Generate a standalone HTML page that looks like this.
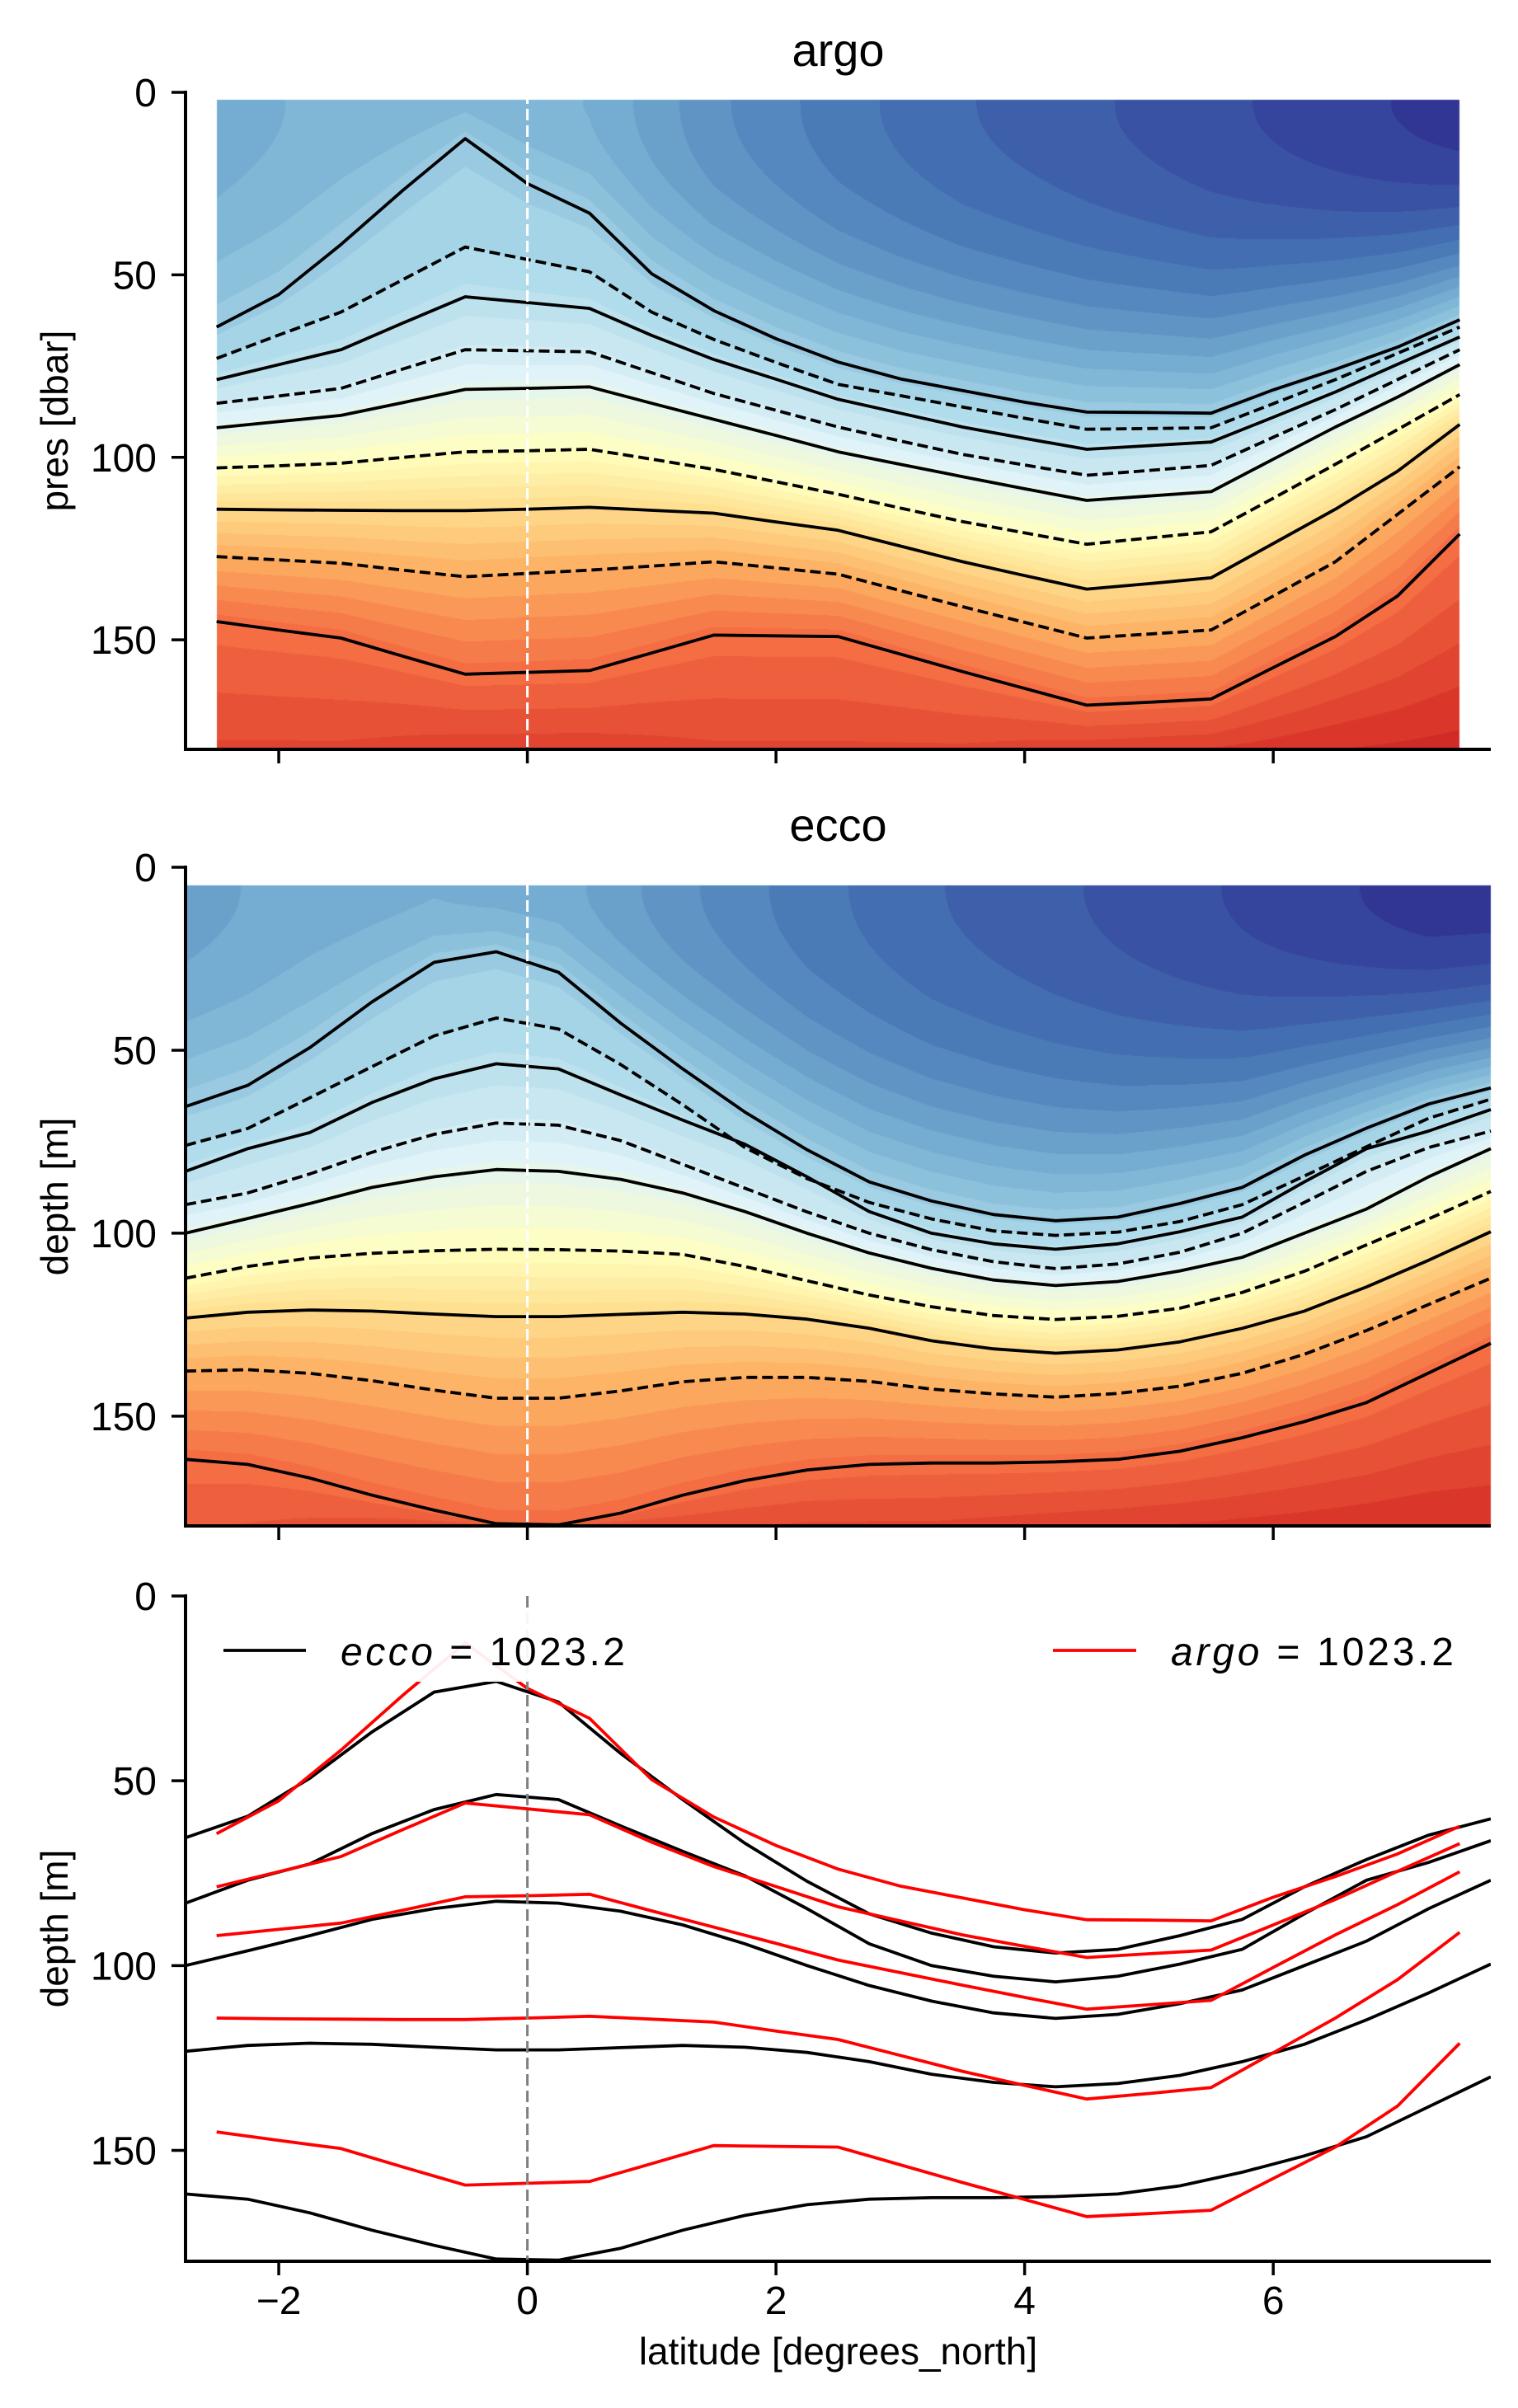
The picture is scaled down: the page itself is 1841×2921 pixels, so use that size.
<!DOCTYPE html>
<html><head><meta charset="utf-8">
<style>
html,body{margin:0;padding:0;background:#fff;}
#wrap{position:relative;width:1841px;height:2921px;overflow:hidden;}
canvas{position:absolute;left:0;top:0;}
svg{position:absolute;left:0;top:0;}
text{font-family:"Liberation Sans",sans-serif;fill:#000;}
</style></head>
<body>
<div id="wrap">
<canvas id="cv" width="1841" height="2921"></canvas>
<svg id="svg" width="1841" height="2921" xmlns="http://www.w3.org/2000/svg"></svg>
</div>
<script>
// ---- data ----
const argoLats = [-2.5,-2,-1.5,-1,-0.5,0,0.5,1,1.5,2,2.5,3,3.5,4,4.5,5,5.5,6,6.5,7,7.5];
const argoS1 = [64.3,55.4,41.7,26.8,12.7,25,33.1,49.7,59.8,67.5,73.9,78.5,81.7,84.9,87.6,87.7,87.9,81.5,75.9,69.8,62.3];
const argoD1 = [72.9,66.5,60.2,51.3,42.4,45.8,49.2,60.2,67.7,74,80,83.1,86.2,89.3,92.3,92.1,91.9,85.3,78.7,71.5,64.3];
const argoS2 = [78.7,74.6,70.5,63.2,56,57.6,59.2,66.6,73.2,78.6,84.1,87.9,91.7,94.8,97.8,96.8,95.8,89,82.1,74.5,67];
const argoD2 = [85.2,83.2,81.1,75.8,70.5,70.8,71.1,76.8,82.5,87.1,91.7,95.5,99.2,102.1,104.9,103.6,102.2,94.5,86.9,78.7,70.5];
const argoS3 = [91.9,90.2,88.5,85,81.4,81.1,80.7,85.2,89.6,94,98.5,101.9,105.3,108.6,111.8,110.6,109.4,100.5,91.7,83.5,74.6];
const argoD3 = [102.9,102.3,101.6,100,98.5,98.2,97.8,100.5,103.3,106.7,110.1,113.9,117.6,120.7,123.8,122.1,120.4,111.2,101.9,92.4,82.8];
const argoS4 = [114.2,114.4,114.5,114.6,114.6,114.2,113.7,114.5,115.3,117.7,120,124.3,128.6,132.4,136.1,134.6,133,123.6,114.2,103.8,91];
const argoD4 = [127.2,128.1,129,130.9,132.7,131.8,130.9,129.8,128.6,130.3,132,136.5,140.9,145.2,149.5,148.4,147.3,138,128.6,115.6,102.6];
const argoS5 = [145,147.3,149.5,154.5,159.4,158.9,158.4,153.6,148.7,148.9,149.1,153.9,158.7,163.3,167.9,167.1,166.2,157.6,149.1,138,121];

const eccoLats = [-2.75,-2.25,-1.75,-1.25,-0.75,-0.25,0.25,0.75,1.25,1.75,2.25,2.75,3.25,3.75,4.25,4.75,5.25,5.75,6.25,6.75,7.25,7.75];
const eccoS1 = [65.4,59.6,49.3,36.8,26,23.1,28.7,42.6,55.1,66.9,77.2,86,91.2,94.9,96.6,95.6,91.9,87.5,78.7,71.3,64.7,60.3];
const eccoD1 = [76,71.4,63,54.5,46.1,41.2,44.2,53.9,64.9,76.6,85.1,91.6,96.1,99.4,100.6,99.7,96.8,92.2,84.4,76.4,68.6,63.4];
const eccoS2 = [83.1,76.9,72.5,64.3,57.8,53.7,55.1,62.2,69.1,75.7,84.6,94.1,100,102.9,104.4,102.9,99.6,95.6,86,76.9,72.1,66.2];
const eccoD2 = [92.2,89,83.8,77.9,73,69.9,70.5,74.7,81.2,87.7,94.2,100,104.5,107.8,109.7,108.4,105.2,100,91.6,83.1,76.6,72.1];
const eccoS3 = [100,96,91.9,87.5,84.6,82.6,83.1,85.3,89,94.1,100,105.4,109.6,112.8,114.3,113.2,110.3,106.6,100,93.4,84.6,76.9];
const eccoD3 = [112.3,109.1,106.8,105.5,104.8,104.4,104.5,104.9,105.8,109.1,113,116.9,120.1,122.5,123.6,122.7,120.5,116.2,110.4,103.2,96.1,88.6];
const eccoS4 = [123.2,121.6,121,121.3,122.1,122.8,122.8,122.2,121.6,122.1,123.5,126,129.4,131.6,132.8,131.9,129.7,126,121.3,114.7,107.4,99.6];
const eccoD4 = [137.7,137.3,138.3,140.3,142.9,145.1,145.1,143.1,140.6,139.4,139.4,140.5,142.6,143.9,144.8,143.8,141.8,138.3,133.1,126.6,119.5,112.3];
const eccoS5 = [161.8,163.2,166.9,171.6,175.7,179.4,179.7,176.5,171.6,167.6,164.7,163.2,162.8,162.8,162.5,161.8,159.6,155.9,151.5,146.3,138.2,130.1];

const xTicks = [-2,0,2,4,6];
const yTicks = [0,50,100,150];

// colour field helpers (surface / bottom colormap position per latitude)
const argoTopLats = [-2.5,-1.5,-0.5,0.5,1.5,2.5,3.5,4.5,5.5,6.5,7.5];
const argoTopT = [0.2,0.22,0.23,0.21,0.15,0.11,0.08,0.06,0.04,0.02,0.0];
const argoBotT = [0.86,0.86,0.87,0.87,0.86,0.86,0.86,0.87,0.88,0.9,0.91];
const eccoTopLats = [-2.75,-1.75,-0.75,0.25,1.25,2.25,3.25,4.25,5.25,6.25,7.25];
const eccoTopT = [0.18,0.2,0.21,0.2,0.15,0.11,0.08,0.06,0.04,0.02,0.0];
const eccoBotT = [0.83,0.84,0.85,0.85,0.85,0.86,0.86,0.87,0.88,0.89,0.9];
const levelT = [0.27,0.30,0.33,0.37,0.42,0.5,0.61,0.70,0.80];

const argoLines=[argoS1,argoD1,argoS2,argoD2,argoS3,argoD3,argoS4,argoD4,argoS5];
const eccoLines=[eccoS1,eccoD1,eccoS2,eccoD2,eccoS3,eccoD3,eccoS4,eccoD4,eccoS5];

// ---- geometry ----
const X0=225, X1=1808, LAT0=-2.75, LAT1=7.75;
const panels=[{top:112,bot:909},{top:1052,bot:1851},{top:1936,bot:2743}];
function xs(lat){return X0+(lat-LAT0)/(LAT1-LAT0)*(X1-X0);}
function ys(p,d){return p.top+d/180*(p.bot-p.top);}
function interp(xa,ya,x){
  if(x<=xa[0])return ya[0]; const n=xa.length;
  if(x>=xa[n-1])return ya[n-1];
  for(let i=0;i<n-1;i++){if(x<=xa[i+1]){const f=(x-xa[i])/(xa[i+1]-xa[i]);return ya[i]+f*(ya[i+1]-ya[i]);}}
}
const cmap=["#313695","#4575b4","#74add1","#abd9e9","#e0f3f8","#ffffbf","#fee090","#fdae61","#f46d43","#d73027","#a50026"];
const cm=cmap.map(h=>[parseInt(h.substr(1,2),16),parseInt(h.substr(3,2),16),parseInt(h.substr(5,2),16)]);
function col(t){t=Math.max(0,Math.min(1,t));t=Math.round(t*45)/45;const s=t*10,i=Math.min(9,Math.floor(s)),f=s-i;
  return cm[i].map((c,k)=>Math.round(c+f*(cm[i+1][k]-c)));}

// ---- fill ----
const ctx=document.getElementById('cv').getContext('2d');
function field(p,lats,lines,topLats,topT,botT,latA,latB,d0){
  const xa=Math.round(xs(latA)), xb=Math.round(xs(latB));
  const ya=Math.round(ys(p,d0)), yb=p.bot;
  const img=ctx.createImageData(xb-xa,yb-ya);
  for(let px=xa;px<xb;px++){
    const lat=LAT0+(px+0.5-X0)/(X1-X0)*(LAT1-LAT0);
    const L=lines.map(a=>interp(lats,a,lat));
    const tt=interp(topLats,topT,lat), tb=interp(topLats,botT,lat);
    for(let py=ya;py<yb;py++){
      const d=(py+0.5-p.top)/(p.bot-p.top)*180; let t;
      if(d<L[0]){const f=Math.max(0,(d-d0)/(L[0]-d0));t=tt+(levelT[0]-tt)*Math.pow(f,2.2);}
      else if(d>=L[8]){const f=(d-L[8])/(180-L[8]);t=levelT[8]+(tb-levelT[8])*f;}
      else{for(let i=0;i<8;i++){if(d<L[i+1]){const f=(d-L[i])/(L[i+1]-L[i]);t=levelT[i]+f*(levelT[i+1]-levelT[i]);break;}}}
      const c=col(t), o=((py-ya)*(xb-xa)+(px-xa))*4;
      img.data[o]=c[0];img.data[o+1]=c[1];img.data[o+2]=c[2];img.data[o+3]=255;
    }
  }
  ctx.putImageData(img,xa,ya);
}
field(panels[0],argoLats,argoLines,argoTopLats,argoTopT,argoBotT,-2.5,7.5,2);
field(panels[1],eccoLats,eccoLines,eccoTopLats,eccoTopT,eccoBotT,-2.75,7.75,5);

// ---- svg ----
const NS="http://www.w3.org/2000/svg", svg=document.getElementById('svg');
function mk(tag,attrs,parent){const e=document.createElementNS(NS,tag);for(const k in attrs)e.setAttribute(k,attrs[k]);(parent||svg).appendChild(e);return e;}
function path(p,lats,arr){return arr.map((d,i)=>(i?'L':'M')+xs(lats[i]).toFixed(1)+','+ys(p,d).toFixed(1)).join(' ');}

function drawLines(p,lats,lines,name,colr,dashAlt){
  lines.forEach((arr,i)=>{
    const dashed=dashAlt && i%2===1;
    const e=mk('path',{d:path(p,lats,arr),fill:'none',stroke:colr,'stroke-width':3.8,'stroke-linejoin':'round'});
    if(dashed)e.setAttribute('stroke-dasharray','13 6');
    
    
  });
}
const clip=mk('clipPath',{id:'c3'});mk('rect',{x:X0,y:panels[2].top,width:X1-X0,height:panels[2].bot-panels[2].top},clip);

drawLines(panels[0],argoLats,argoLines,'argo',"#000",true);
drawLines(panels[1],eccoLats,eccoLines,'ecco',"#000",true);
const g3=mk('g',{'clip-path':'url(#c3)'});


[eccoS1,eccoS2,eccoS3,eccoS4,eccoS5].forEach((a,i)=>{const e=mk('path',{d:path(panels[2],eccoLats,a),fill:'none',stroke:'#000','stroke-width':3.8},g3);
  });
[argoS1,argoS2,argoS3,argoS4,argoS5].forEach((a,i)=>{const e=mk('path',{d:path(panels[2],argoLats,a),fill:'none',stroke:'#ff0000','stroke-width':3.8},g3);
  });

// equator lines
panels.forEach((p,i)=>{
  const e=mk('line',{x1:xs(0),x2:xs(0),y1:p.top,y2:p.bot,stroke:i<2?'#ffffff':'#808080','stroke-width':3,'stroke-dasharray':'14 6'});
  
});

// axes
const ylabels=['pres [dbar]','depth [m]','depth [m]'];
panels.forEach((p,i)=>{
  const ax=mk('g',{});
  
  mk('line',{x1:X0,x2:X0,y1:p.top-2,y2:p.bot+2,stroke:'#000','stroke-width':4},ax);
  mk('line',{x1:X0-2,x2:X1,y1:p.bot,y2:p.bot,stroke:'#000','stroke-width':4},ax);
  yTicks.forEach(v=>{const y=ys(p,v);
    mk('line',{x1:X0-17,x2:X0,y1:y,y2:y,stroke:'#000','stroke-width':3.5},ax);
    const t=mk('text',{x:190,y:y+17,'text-anchor':'end','font-size':48},ax);t.textContent=v;
    });
  xTicks.forEach(v=>{const x=xs(v);
    mk('line',{x1:x,x2:x,y1:p.bot,y2:p.bot+17,stroke:'#000','stroke-width':3.5},ax);
    if(i===2){const t=mk('text',{x:x,y:2807,'text-anchor':'middle','font-size':48},ax);t.textContent=(v<0?'\u2212'+(-v):v);
      }});
  const cy=(p.top+p.bot)/2;
  const yl=mk('text',{x:0,y:0,'text-anchor':'middle','font-size':46,transform:`translate(82,${cy}) rotate(-90)`},ax);
  yl.textContent=ylabels[i];
  
});
[['argo',80],['ecco',1020]].forEach(([s,y])=>{const t=mk('text',{x:(X0+X1)/2,y:y,'text-anchor':'middle','font-size':56});t.textContent=s;
  });
const xl=mk('text',{x:(X0+X1)/2,y:2868,'text-anchor':'middle','font-size':46});xl.textContent='latitude [degrees_north]';


// legend
const lg=mk('g',{});

mk('rect',{x:252,y:1952,width:530,height:88,fill:'#fff','fill-opacity':0.93},lg);
mk('rect',{x:1262,y:1952,width:530,height:88,fill:'#fff','fill-opacity':0.93},lg);
mk('line',{x1:271,x2:371,y1:2002,y2:2002,stroke:'#000','stroke-width':3.8},lg);
mk('line',{x1:1277,x2:1378,y1:2002,y2:2002,stroke:'#ff0000','stroke-width':3.8},lg);
const l1=mk('text',{x:413,y:2020,'font-size':48,textLength:345,lengthAdjust:'spacing'},lg);
l1.innerHTML='<tspan font-style="italic">ecco</tspan> = 1023.2';

const l2=mk('text',{x:1420,y:2020,'font-size':48,textLength:343,lengthAdjust:'spacing'},lg);
l2.innerHTML='<tspan font-style="italic">argo</tspan> = 1023.2';

</script>
</body></html>
